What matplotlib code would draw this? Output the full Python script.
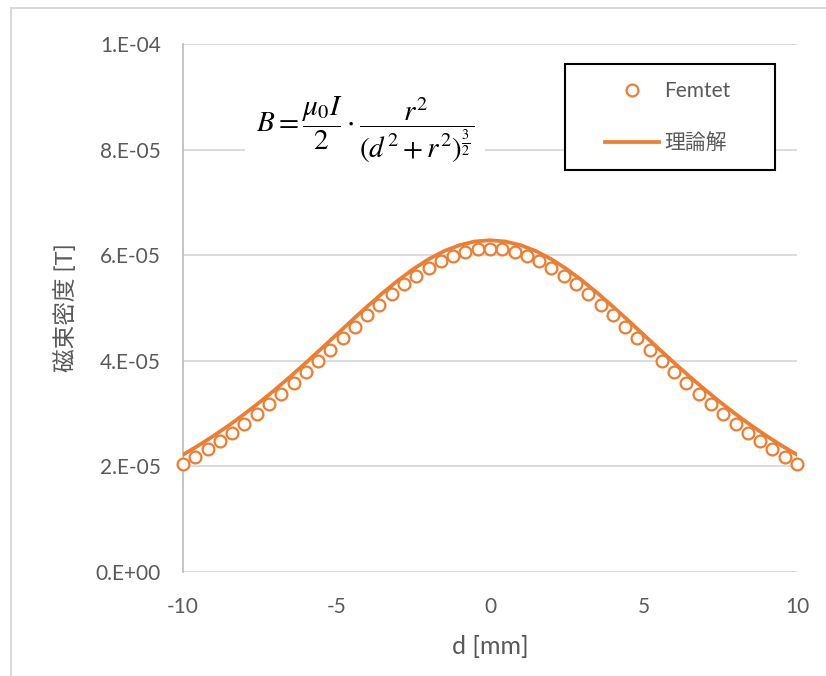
import numpy as np
import matplotlib
matplotlib.use("Agg")
import matplotlib.pyplot as plt
from matplotlib.patches import Rectangle

plt.rcParams['font.family'] = ['Lato', 'Noto Sans CJK JP', 'DejaVu Sans']
plt.rcParams['mathtext.fontset'] = 'stix'
plt.rcParams['axes.unicode_minus'] = False

# Femtet result, d = -10 ... 10 mm step 0.4 (values in 1e-5 T)
d_femtet = [-10.0, -9.6, -9.2, -8.8, -8.4, -8.0, -7.6, -7.2, -6.8, -6.4,
            -6.0, -5.6, -5.2, -4.8, -4.4, -4.0, -3.6, -3.2, -2.8, -2.4,
            -2.0, -1.6, -1.2, -0.8, -0.4, 0.0, 0.4, 0.8, 1.2, 1.6,
            2.0, 2.4, 2.8, 3.2, 3.6, 4.0, 4.4, 4.8, 5.2, 5.6,
            6.0, 6.4, 6.8, 7.2, 7.6, 8.0, 8.4, 8.8, 9.2, 9.6, 10.0]
b_femtet = [2.044, 2.180, 2.325, 2.479, 2.641, 2.812, 2.991, 3.178, 3.374, 3.576,
            3.784, 3.997, 4.213, 4.430, 4.647, 4.859, 5.065, 5.262, 5.446, 5.614,
            5.763, 5.890, 5.991, 6.065, 6.111, 6.126, 6.111, 6.065, 5.991, 5.890,
            5.763, 5.614, 5.446, 5.262, 5.065, 4.859, 4.647, 4.430, 4.213, 3.997,
            3.784, 3.576, 3.374, 3.178, 2.991, 2.812, 2.641, 2.479, 2.325, 2.180, 2.044]

# theory curve read at 0.5 mm steps (1e-5 T)
d_theory = [-10.0, -9.5, -9.0, -8.5, -8.0, -7.5, -7.0, -6.5, -6.0, -5.5,
            -5.0, -4.5, -4.0, -3.5, -3.0, -2.5, -2.0, -1.5, -1.0, -0.5,
            0.0, 0.5, 1.0, 1.5, 2.0, 2.5, 3.0, 3.5, 4.0, 4.5,
            5.0, 5.5, 6.0, 6.5, 7.0, 7.5, 8.0, 8.5, 9.0, 9.5, 10.0]
b_theory = [2.221, 2.394, 2.580, 2.779, 2.992, 3.217, 3.455, 3.703, 3.962, 4.227,
            4.496, 4.765, 5.029, 5.283, 5.521, 5.737, 5.924, 6.077, 6.190, 6.260,
            6.283, 6.260, 6.190, 6.077, 5.924, 5.737, 5.521, 5.283, 5.029, 4.765,
            4.496, 4.227, 3.962, 3.703, 3.455, 3.217, 2.992, 2.779, 2.580, 2.394, 2.221]

y_ticks = [0, 2e-5, 4e-5, 6e-5, 8e-5, 1e-4]
y_ticklabels = ['0.E+00', '2.E-05', '4.E-05', '6.E-05', '8.E-05', '1.E-04']
x_ticks = [-10, -5, 0, 5, 10]

orange = '#ED7D31'
gray_text = '#595959'
W, H = 826, 676

fig = plt.figure(figsize=(W / 100, H / 100), dpi=100)
# outer chart border (light gray)
fig.patches.append(Rectangle((11 / W, -0.1), 1.2, 1 - 8 / H + 0.1, transform=fig.transFigure,
                             fill=False, edgecolor='#d9d9d9', linewidth=1.5))
ax = fig.add_axes([183 / W, 1 - 572 / H, (797 - 183) / W, (572 - 44) / H])

ax.plot(d_theory, np.array(b_theory) * 1e-5, '-', color=orange, linewidth=2.7,
        label='理論解', zorder=3)
ax.plot(d_femtet, np.array(b_femtet) * 1e-5, 'o', mfc='white', mec=orange, mew=1.6,
        markersize=8.5, label='Femtet', zorder=4, clip_on=False)

ax.set_xlim(-10, 10)
ax.set_ylim(0, 1e-4)
ax.set_yticks(y_ticks)
ax.set_yticklabels(y_ticklabels)
ax.set_xticks(x_ticks)
ax.grid(axis='y', color='#d9d9d9', linewidth=1.3)
ax.set_axisbelow(True)
for side in ['top', 'right', 'bottom']:
    ax.spines[side].set_visible(False)
ax.spines['left'].set_color('#bfbfbf')
ax.spines['left'].set_linewidth(1.3)
ax.tick_params(length=0, labelsize=15, labelcolor=gray_text)
ax.tick_params(axis='y', pad=16)
ax.tick_params(axis='x', pad=18)

ax.set_xlabel('d [mm]', fontsize=18, color=gray_text, va='center')
ax.xaxis.set_label_coords(0.5, (572 - 647) / 528)
ax.set_ylabel('磁束密度 [T]', fontsize=17, color=gray_text, va='center')
ax.yaxis.set_label_coords((66 - 183) / 614, 0.5)

# formula pasted on a white background
fig.text(365 / W, 1 - 130 / H,
         r'$B = \dfrac{\mu_0 I}{2} \cdot \dfrac{r^2}{(d^2 + r^2)^{\frac{3}{2}}}$',
         fontsize=21, ha='center', va='center',
         bbox=dict(facecolor='white', edgecolor='none', pad=8))

# legend box
fig.patches.append(Rectangle((565 / W, 1 - 170 / H), 210 / W, 106 / H, transform=fig.transFigure,
                             facecolor='white', edgecolor='black', linewidth=1.5, zorder=5))
handles, labels = ax.get_legend_handles_labels()
leg = fig.legend([handles[1], handles[0]], [labels[1], labels[0]],
                 loc='upper left', bbox_to_anchor=(605 / W, 1 - 81 / H),
                 fontsize=15, frameon=False, borderpad=0, handlelength=2.6,
                 handletextpad=0.25, labelspacing=1.55, borderaxespad=0)
leg.set_zorder(6)
for t in leg.get_texts():
    t.set_color(gray_text)

fig.savefig('out.png', dpi=100, facecolor='white')
